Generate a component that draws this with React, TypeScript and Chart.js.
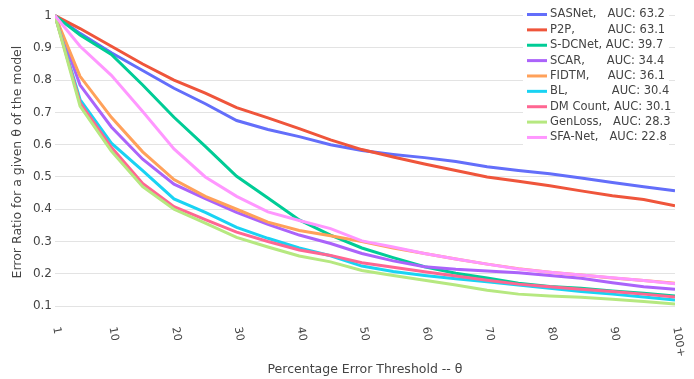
import React, { useEffect, useRef } from "react";
import { Chart, registerables } from "chart.js";

Chart.register(...registerables);

const thresholds = [1, 5, 10, 15, 20, 25, 30, 35, 40, 45, 50, 55, 60, 65, 70, 75, 80, 85, 90, 95, 100];
const xTickValues = [1, 10, 20, 30, 40, 50, 60, 70, 80, 90, 100];
const xTickLabels = ["1", "10", "20", "30", "40", "50", "60", "70", "80", "90", "100+"];
const yTickValues = [0.1, 0.2, 0.3, 0.4, 0.5, 0.6, 0.7, 0.8, 0.9, 1];

const modelNames = ["SASNet", "P2P", "S-DCNet", "SCAR", "FIDTM", "BL", "DM Count", "GenLoss", "SFA-Net"];
const legendLabels = [
  "SASNet,   AUC: 63.2",
  "P2P,         AUC: 63.1",
  "S-DCNet, AUC: 39.7",
  "SCAR,      AUC: 34.4",
  "FIDTM,     AUC: 36.1",
  "BL,            AUC: 30.4",
  "DM Count, AUC: 30.1",
  "GenLoss,   AUC: 28.3",
  "SFA-Net,   AUC: 22.8",
];
const colors = ["#636efa", "#EF553B", "#00cc96", "#ab63fa", "#FFA15A", "#19d3f3", "#FF6692", "#B6E880", "#FF97FF"];

const sasnet = [1, 0.945, 0.885, 0.83, 0.775, 0.727, 0.675, 0.647, 0.625, 0.6, 0.582, 0.57, 0.56, 0.548, 0.532, 0.52, 0.51, 0.497, 0.483, 0.47, 0.457];
const p2p = [1, 0.96, 0.905, 0.85, 0.8, 0.76, 0.715, 0.683, 0.65, 0.615, 0.585, 0.562, 0.54, 0.52, 0.5, 0.487, 0.473, 0.457, 0.442, 0.43, 0.411];
const sdcnet = [1, 0.94, 0.88, 0.785, 0.685, 0.595, 0.502, 0.435, 0.367, 0.32, 0.28, 0.25, 0.222, 0.202, 0.187, 0.171, 0.161, 0.155, 0.147, 0.14, 0.131];
const scar = [1, 0.785, 0.655, 0.555, 0.478, 0.433, 0.39, 0.353, 0.32, 0.294, 0.263, 0.24, 0.222, 0.214, 0.209, 0.203, 0.195, 0.186, 0.172, 0.16, 0.152];
const fidtm = [1, 0.812, 0.685, 0.578, 0.492, 0.44, 0.4, 0.36, 0.334, 0.318, 0.3, 0.28, 0.263, 0.246, 0.23, 0.216, 0.205, 0.196, 0.187, 0.179, 0.171];
const bl = [1, 0.74, 0.605, 0.52, 0.432, 0.39, 0.344, 0.31, 0.28, 0.256, 0.224, 0.207, 0.195, 0.185, 0.175, 0.165, 0.155, 0.145, 0.137, 0.128, 0.119];
const dmCount = [1, 0.73, 0.592, 0.48, 0.408, 0.368, 0.329, 0.3, 0.274, 0.257, 0.234, 0.22, 0.206, 0.193, 0.18, 0.168, 0.16, 0.152, 0.145, 0.137, 0.128];
const genLoss = [1, 0.72, 0.58, 0.47, 0.4, 0.357, 0.313, 0.283, 0.255, 0.237, 0.21, 0.195, 0.18, 0.165, 0.149, 0.137, 0.131, 0.127, 0.121, 0.114, 0.106];
const sfaNet = [1, 0.905, 0.815, 0.703, 0.587, 0.5, 0.44, 0.392, 0.365, 0.34, 0.302, 0.283, 0.263, 0.246, 0.23, 0.215, 0.205, 0.196, 0.188, 0.179, 0.169];

const seriesValues = [sasnet, p2p, sdcnet, scar, fidtm, bl, dmCount, genLoss, sfaNet];

const FONT = "'DejaVu Sans', Verdana, sans-serif";
const TEXT_COLOR = "#444";

const overlayPlugin = {
  id: "overlay",
  afterDraw(chart: any) {
    const ctx = chart.ctx;
    const xs = chart.scales.x;
    const area = chart.chartArea;
    ctx.save();
    // rotated x tick labels
    ctx.fillStyle = TEXT_COLOR;
    ctx.font = `11px ${FONT}`;
    ctx.textAlign = "left";
    ctx.textBaseline = "middle";
    const angle = (80 * Math.PI) / 180;
    xTickValues.forEach((v, i) => {
      const px = xs.getPixelForValue(v);
      ctx.save();
      ctx.translate(px + 1, area.bottom + 13);
      ctx.rotate(angle);
      ctx.fillText(xTickLabels[i], 0, 0);
      ctx.restore();
    });
    // legend
    const boxLeft = area.right - 152;
    const boxTop = area.top - 4;
    ctx.fillStyle = "#ffffff";
    ctx.fillRect(boxLeft, boxTop, 146, 142);
    legendLabels.forEach((label, i) => {
      const y = boxTop + 8.3 + i * 15.37;
      ctx.strokeStyle = colors[i];
      ctx.lineWidth = 3;
      ctx.beginPath();
      ctx.moveTo(boxLeft + 4, y);
      ctx.lineTo(boxLeft + 24, y);
      ctx.stroke();
      ctx.fillStyle = TEXT_COLOR;
      ctx.font = `11.5px ${FONT}`;
      ctx.textAlign = "left";
      ctx.textBaseline = "middle";
      ctx.fillText(label, boxLeft + 27, y);
    });
    ctx.restore();
  },
};

export default function App() {
  const canvasRef = useRef<HTMLCanvasElement | null>(null);

  useEffect(() => {
    const canvas = canvasRef.current;
    if (!canvas) return;
    const chart = new Chart(canvas, {
      type: "line",
      data: {
        datasets: modelNames.map((name, i) => ({
          label: name,
          data: thresholds.map((t, j) => ({ x: t, y: seriesValues[i][j] })),
          borderColor: colors[i],
          backgroundColor: colors[i],
          borderWidth: 3,
          pointRadius: 0,
          tension: 0,
          fill: false,
          order: -i,
        })),
      },
      options: {
        animation: false,
        responsive: false,
        devicePixelRatio: 1,
        layout: { padding: { top: 8, right: 19, left: 0, bottom: 0 } },
        plugins: {
          legend: { display: false },
          tooltip: { enabled: false },
        },
        scales: {
          x: {
            type: "linear",
            min: 1,
            max: 100,
            grid: { display: false },
            border: { display: false },
            ticks: { display: false },
            afterFit: (scale: any) => {
              scale.height = 65;
            },
            title: {
              display: true,
              text: "Percentage Error Threshold -- θ",
              color: TEXT_COLOR,
              font: { family: FONT, size: 12.5 },
              padding: { top: 0, bottom: 2 },
            },
          },
          y: {
            type: "linear",
            min: 0.0754,
            max: 1.0169,
            afterBuildTicks: (scale: any) => {
              scale.ticks = yTickValues.map((v) => ({ value: v }));
            },
            afterFit: (scale: any) => {
              scale.width = 55;
            },
            grid: { color: "#e3e3e3", lineWidth: 1, drawTicks: false },
            border: { display: false },
            ticks: {
              padding: 3,
              color: TEXT_COLOR,
              font: { family: FONT, size: 12 },
              callback: (v: any) => (v === 1 ? "1" : Number(v).toFixed(1)),
            },
            title: {
              display: true,
              text: "Error Ratio for a given θ of the model",
              color: TEXT_COLOR,
              font: { family: FONT, size: 12.5 },
              padding: { top: 10, bottom: 0 },
            },
          },
        },
      },
      plugins: [overlayPlugin],
    });
    return () => chart.destroy();
  }, []);

  return (
    <div style={{ position: "fixed", left: 0, top: 0, width: 694, height: 379, background: "#fff" }}>
      <canvas ref={canvasRef} width={694} height={379} style={{ display: "block", width: 694, height: 379 }} />
    </div>
  );
}
